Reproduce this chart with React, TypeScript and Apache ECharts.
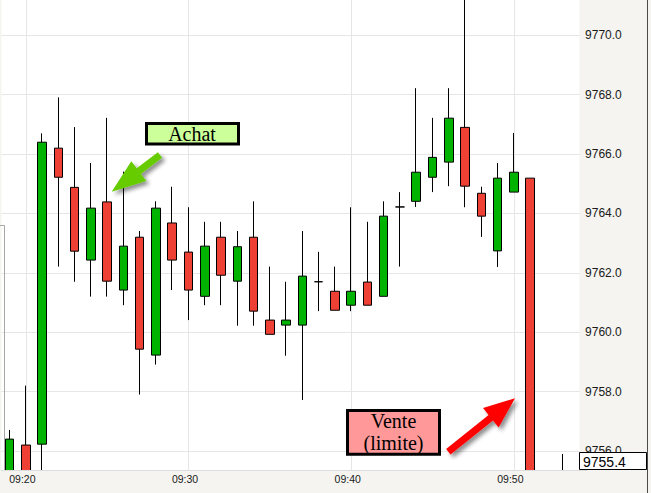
import React, { useEffect, useRef } from "react";
import * as echarts from "echarts";

// ---- data ----
const times = [
  "09:19", "09:20", "09:21", "09:22", "09:23", "09:24", "09:25", "09:26", "09:27",
  "09:28", "09:29", "09:30", "09:31", "09:32", "09:33", "09:34", "09:35", "09:36",
  "09:37", "09:38", "09:39", "09:40", "09:41", "09:42", "09:43", "09:44", "09:45",
  "09:46", "09:47", "09:48", "09:49", "09:50", "09:51", "09:52", "09:53", "09:54",
];
const opens = [
  9754.9, 9756.2, 9756.23, 9766.2, 9764.88, 9762.43, 9764.39, 9761.42, 9763.2,
  9759.23, 9763.68, 9762.7, 9761.21, 9763.2, 9761.72, 9763.2, 9760.41, 9760.24,
  9760.24, 9761.7, 9761.38, 9760.91, 9761.69, 9761.21, 9764.22, 9764.41, 9765.22,
  9765.73, 9766.9, 9764.68, 9762.74, 9764.72, 9765.19, 9754.9, 9755.1, null,
];
const closes = [
  9756.4, 9754.9, 9766.4, 9765.22, 9762.73, 9764.18, 9761.72, 9762.9, 9759.43,
  9764.18, 9762.43, 9761.42, 9762.9, 9761.92, 9762.88, 9760.71, 9759.93, 9760.41,
  9761.89, 9761.7, 9760.74, 9761.38, 9760.91, 9763.91, 9764.22, 9765.39, 9765.89,
  9767.21, 9764.92, 9763.91, 9765.19, 9765.39, 9754.9, 9754.5, 9755.3, null,
];
const lows = [
  9754.6, 9754.5, 9754.8, 9762.21, 9761.7, 9761.2, 9761.2, 9760.91, 9757.9,
  9758.91, 9761.42, 9760.41, 9760.91, 9760.91, 9760.22, 9760.22, 9759.93, 9759.21,
  9757.72, 9760.71, 9760.74, 9760.71, 9760.91, 9761.21, 9762.21, 9764.22, 9764.72,
  9764.92, 9764.21, 9763.21, 9762.2, 9764.72, 9754.6, 9754.2, 9755.0, null,
];
const highs = [
  9756.71, 9758.2, 9766.7, 9767.91, 9766.91, 9765.7, 9767.22, 9765.41, 9763.41,
  9764.41, 9764.9, 9764.21, 9763.72, 9763.72, 9763.41, 9764.41, 9762.21, 9761.7,
  9763.41, 9762.71, 9762.21, 9764.21, 9763.72, 9764.41, 9764.72, 9768.22, 9767.22,
  9768.22, 9772.5, 9764.9, 9765.7, 9766.71, 9765.19, 9755.2, 9755.9, null,
];
const yMin = 9755.36;
const yMax = 9771.19;
const lastPrice = "9755.4";
const buyLabel = "Achat";
const sellLabel = "Vente\n(limite)";

const LABEL_FONT = "'Liberation Sans', Arial, sans-serif";
const SERIF_FONT = "'Liberation Serif', 'Times New Roman', serif";
const PANEL = "#f5f4f0";

const isTenMinute = (_i: number, v: string) => v.endsWith("0");

export default function App() {
  const ref = useRef<HTMLDivElement>(null);

  useEffect(() => {
    document.body.style.margin = "0";
    if (!ref.current) return;
    const chart = echarts.init(ref.current, undefined, { renderer: "svg" });

    const candleData = times.map((_, i) =>
      opens[i] == null ? "-" : [opens[i], closes[i], lows[i], highs[i]]
    );

    const option: any = {
      animation: false,
      backgroundColor: PANEL,
      grid: {
        left: 1.45,
        right: 651 - 587.05,
        top: 0,
        bottom: 23,
        show: true,
        backgroundColor: "#ffffff",
        borderWidth: 0,
      },
      xAxis: [
        {
          type: "category",
          data: times,
          boundaryGap: true,
          axisLine: { show: false },
          axisTick: { show: false },
          axisLabel: { show: false },
          splitLine: {
            show: true,
            interval: isTenMinute,
            alignWithLabel: true,
            lineStyle: { color: "#e6e6e6", width: 1 },
          },
        },
        {
          type: "category",
          data: times,
          position: "bottom",
          boundaryGap: true,
          z: 10,
          axisLine: { show: true, lineStyle: { color: "#dcdcdc" } },
          axisTick: { show: false },
          splitLine: { show: false },
          axisLabel: {
            interval: isTenMinute,
            color: "#1a1a1a",
            fontSize: 10.5,
            fontFamily: LABEL_FONT,
            margin: 3,
            padding: [0, 7, 0, 0],
          },
        },
      ],
      yAxis: [
        {
          type: "value",
          position: "right",
          min: yMin,
          max: yMax,
          splitNumber: 8,
          axisLine: { show: false },
          axisTick: { show: false },
          axisLabel: { show: false },
          splitLine: {
            show: true,
            showMinLine: false,
            showMaxLine: false,
            lineStyle: { color: "#e6e6e6", width: 1 },
          },
        },
        {
          type: "value",
          position: "right",
          min: yMin,
          max: yMax,
          splitNumber: 8,
          z: 10,
          axisLine: { show: false },
          axisTick: { show: false },
          splitLine: { show: false },
          axisLabel: {
            show: true,
            showMinLabel: false,
            showMaxLabel: false,
            margin: -2,
            color: "#1a1a1a",
            fontSize: 12,
            fontFamily: LABEL_FONT,
            formatter: (v: number) => v.toFixed(1),
          },
        },
      ],
      series: [
        {
          type: "candlestick",
          data: candleData,
          xAxisIndex: 0,
          yAxisIndex: 0,
          barWidth: 9,
          clip: true,
          itemStyle: {
            color: "#00b300",
            color0: "#ee4035",
            borderColor: "#000000",
            borderColor0: "#000000",
            borderColorDoji: "#000000",
            borderWidth: 1,
          },
        },
      ],
      graphic: [
        // right price panel and bottom time panel (mask candles outside the plot)
        {
          type: "rect",
          z: 5,
          silent: true,
          shape: { x: 579.5, y: 0, width: 72, height: 471 },
          style: { fill: PANEL },
        },
        {
          type: "rect",
          z: 5,
          silent: true,
          shape: { x: 0, y: 470.5, width: 651, height: 23 },
          style: { fill: PANEL },
        },
        {
          type: "line",
          z: 30,
          silent: true,
          shape: { x1: 647.5, y1: 0, x2: 647.5, y2: 493 },
          style: { stroke: "#4a4a4a", lineWidth: 1 },
        },
        {
          type: "polyline",
          z: 4,
          silent: true,
          shape: { points: [[0, 225.5], [4.5, 225.5], [4.5, 470]] },
          style: { stroke: "#a8a8a8", lineWidth: 1, fill: null },
        },
        {
          type: "rect",
          z: 20,
          silent: true,
          shape: { x: 579.5, y: 452.5, width: 67, height: 17 },
          style: { fill: "#ffffff", stroke: "#000000", lineWidth: 1 },
        },
        {
          type: "text",
          z: 21,
          silent: true,
          x: 583,
          y: 461.5,
          style: {
            text: lastPrice,
            fontSize: 14,
            fontFamily: LABEL_FONT,
            fill: "#000000",
            align: "left",
            verticalAlign: "middle",
          },
        },
        // Buy annotation
        {
          type: "rect",
          z: 20,
          silent: true,
          shape: { x: 146.5, y: 123.5, width: 92, height: 20.5 },
          style: { fill: "#ccff99", stroke: "#000000", lineWidth: 3 },
        },
        {
          type: "text",
          z: 21,
          silent: true,
          x: 192,
          y: 134,
          style: {
            text: buyLabel,
            fontSize: 20,
            fontFamily: SERIF_FONT,
            fill: "#000000",
            align: "center",
            verticalAlign: "middle",
          },
        },
        {
          type: "polygon",
          z: 20,
          silent: true,
          shape: {
            points: [
              [111.7, 191.7], [146.3, 181.0], [140.9, 173.9], [162.1, 157.8],
              [157.9, 152.2], [136.7, 168.3], [131.3, 161.2],
            ],
          },
          style: {
            fill: "#66cc00",
            shadowBlur: 4,
            shadowColor: "rgba(0,0,0,0.45)",
            shadowOffsetX: 3,
            shadowOffsetY: 3,
          },
        },
        // Sell annotation
        {
          type: "rect",
          z: 20,
          silent: true,
          shape: { x: 347.5, y: 410.5, width: 92, height: 43.7 },
          style: { fill: "#ff9999", stroke: "#000000", lineWidth: 3 },
        },
        {
          type: "text",
          z: 21,
          silent: true,
          x: 393.5,
          y: 432,
          style: {
            text: sellLabel,
            fontSize: 20,
            lineHeight: 22,
            fontFamily: SERIF_FONT,
            fill: "#000000",
            align: "center",
            verticalAlign: "middle",
          },
        },
        {
          type: "polygon",
          z: 20,
          silent: true,
          shape: {
            points: [
              [515, 398.3], [498.6, 427.5], [493.0, 420.4], [450.5, 454.4],
              [446.1, 449.0], [488.6, 415.0], [483.0, 407.9],
            ],
          },
          style: {
            fill: "#ff0000",
            shadowBlur: 4,
            shadowColor: "rgba(0,0,0,0.45)",
            shadowOffsetX: 3,
            shadowOffsetY: 3,
          },
        },
      ],
    };

    chart.setOption(option);
    return () => chart.dispose();
  }, []);

  return (
    <div
      ref={ref}
      style={{ position: "fixed", left: 0, top: 0, width: 651, height: 493 }}
    />
  );
}
